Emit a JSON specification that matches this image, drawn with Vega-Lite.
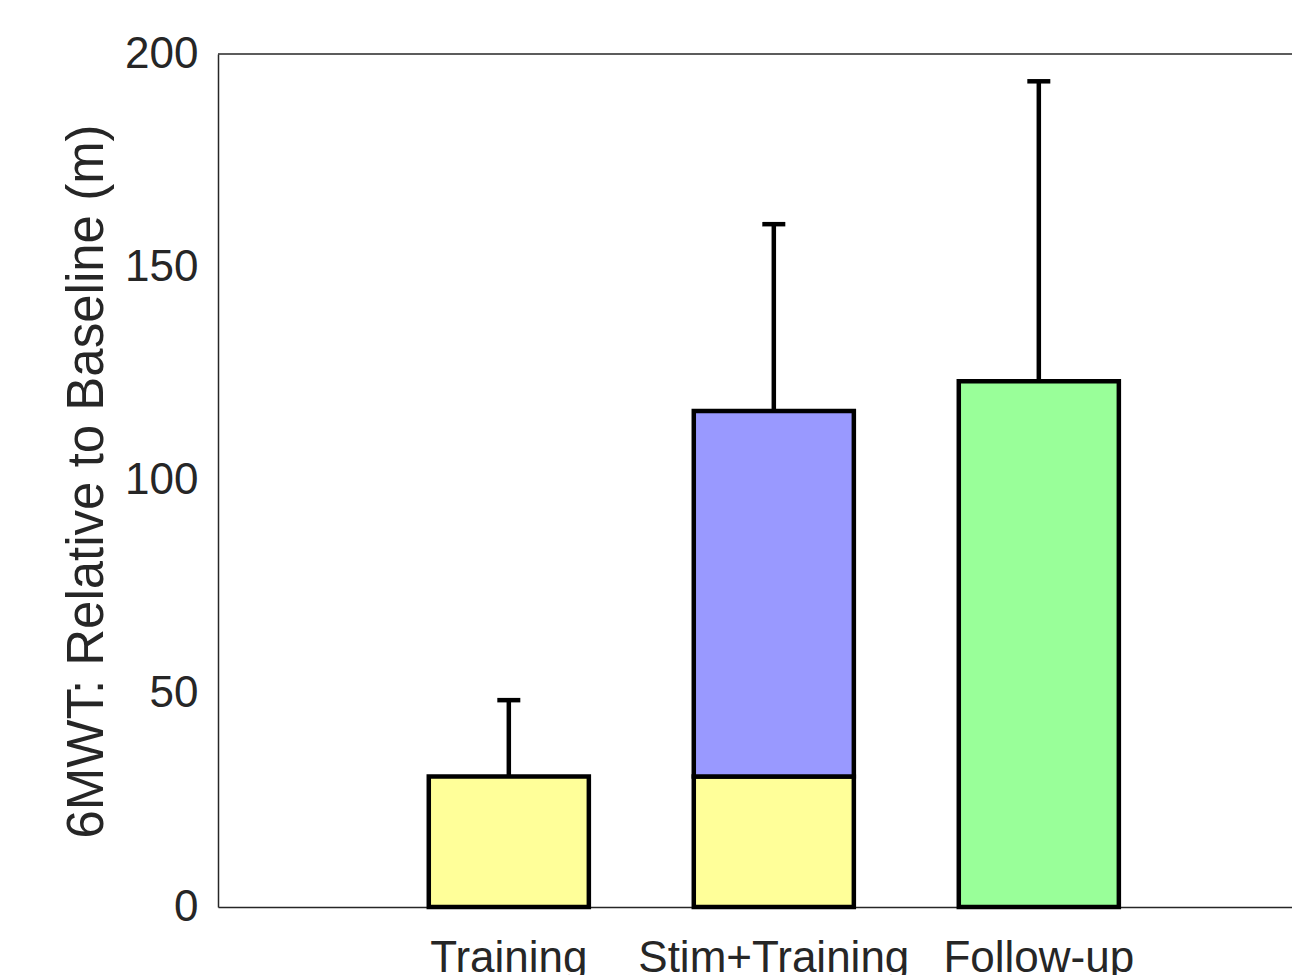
{
  "$schema": "https://vega.github.io/schema/vega-lite/v6.json",
  "width": 1074,
  "height": 853,
  "autosize": {"type": "none"},
  "padding": {"left": 218, "top": 54, "right": 0, "bottom": 68},
  "background": "white",
  "config": {"view": {"stroke": null}, "font": "Liberation Sans"},
  "datasets": {
    "bars": [
      {"condition": "Training", "segment": "Training", "start": 0, "end": 30.6},
      {"condition": "Stim+Training", "segment": "Training", "start": 0, "end": 30.6},
      {"condition": "Stim+Training", "segment": "Stim", "start": 30.6, "end": 116.3},
      {"condition": "Follow-up", "segment": "Follow-up", "start": 0, "end": 123.3}
    ],
    "errors": [
      {"condition": "Training", "mean": 30.6, "upper": 48.5},
      {"condition": "Stim+Training", "mean": 116.3, "upper": 160.1},
      {"condition": "Follow-up", "mean": 123.3, "upper": 193.6}
    ],
    "frame": [{"top": 200}]
  },
  "layer": [
    {
      "data": {"name": "frame"},
      "mark": {"type": "rule", "color": "#262626", "strokeWidth": 1.5},
      "encoding": {"y": {"field": "top", "type": "quantitative", "scale": {"domain": [0, 200], "nice": false}}}
    },
    {
      "data": {"name": "errors"},
      "mark": {"type": "rule", "color": "black", "strokeWidth": 4.5},
      "encoding": {
        "x": {"field": "condition", "type": "nominal", "sort": ["Training", "Stim+Training", "Follow-up"]},
        "y": {"field": "mean", "type": "quantitative"},
        "y2": {"field": "upper"}
      }
    },
    {
      "data": {"name": "errors"},
      "mark": {"type": "tick", "color": "black", "thickness": 4.5, "size": 23, "opacity": 1},
      "encoding": {
        "x": {"field": "condition", "type": "nominal", "sort": ["Training", "Stim+Training", "Follow-up"]},
        "y": {"field": "upper", "type": "quantitative"}
      }
    },
    {
      "data": {"name": "bars"},
      "mark": {"type": "bar", "stroke": "black", "strokeWidth": 4.5, "opacity": 1},
      "encoding": {
        "x": {
          "field": "condition",
          "type": "nominal",
          "sort": ["Training", "Stim+Training", "Follow-up"],
          "scale": {"paddingInner": 0.396, "paddingOuter": 0.7244, "align": 0.549},
          "axis": {
            "title": null,
            "labelAngle": 0,
            "labelAlign": "center",
            "labelLimit": 0,
            "labelOverlap": false,
            "labelFontSize": 44,
            "labelColor": "#262626",
            "labelPadding": 29,
            "ticks": false,
            "tickSize": 0,
            "domainColor": "#262626",
            "domainWidth": 1.5,
            "labelBaseline": "top"
          }
        },
        "y": {
          "field": "start",
          "type": "quantitative",
          "stack": null,
          "scale": {"domain": [0, 200], "nice": false},
          "axis": {
            "title": "6MWT: Relative to Baseline (m)",
            "values": [0, 50, 100, 150, 200],
            "grid": false,
            "ticks": false,
            "tickSize": 0,
            "labelFontSize": 44,
            "labelColor": "#262626",
            "labelPadding": 20,
            "domainColor": "#262626",
            "domainWidth": 1.5,
            "titleFontSize": 51,
            "titleFontWeight": "normal",
            "titleColor": "#262626",
            "titleAngle": -90,
            "titleAlign": "center",
            "titleBaseline": "alphabetic",
            "titleX": -116,
            "titleY": 427
          }
        },
        "y2": {"field": "end"},
        "color": {
          "field": "segment",
          "type": "nominal",
          "scale": {"domain": ["Training", "Stim", "Follow-up"], "range": ["#FFFF99", "#9999FF", "#99FF99"]},
          "legend": null
        }
      }
    }
  ]
}
